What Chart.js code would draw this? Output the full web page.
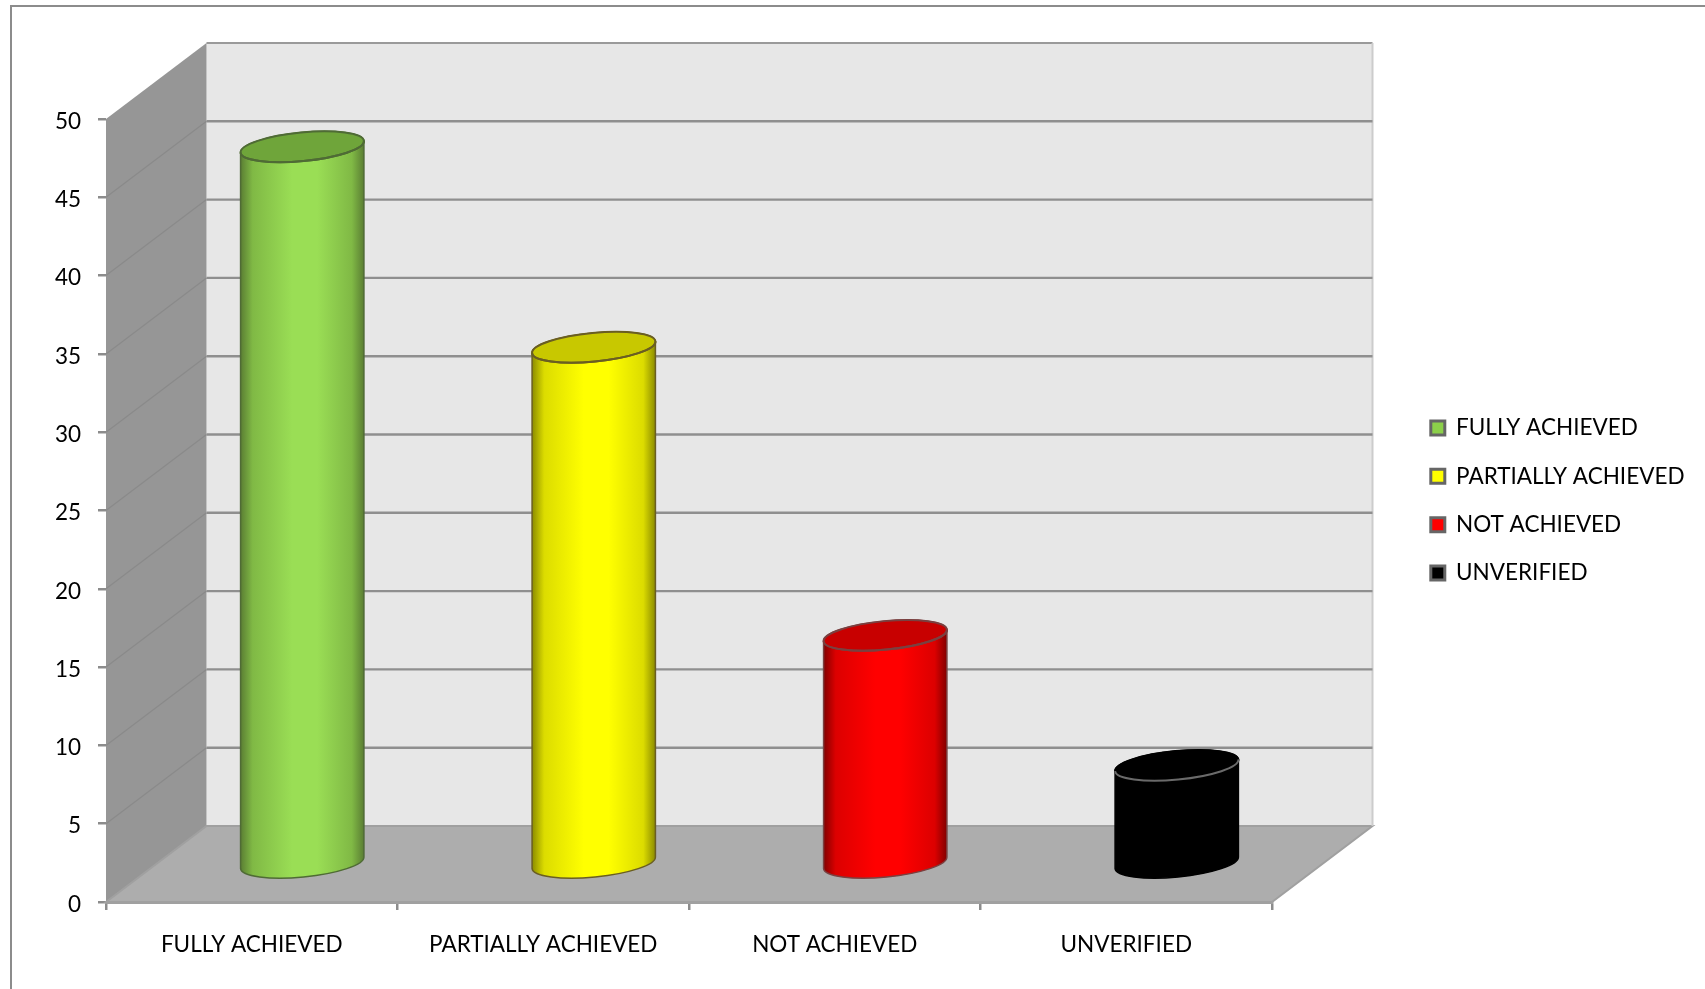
<!DOCTYPE html>
<html>
<head>
<meta charset="utf-8">
<style>
  html, body { margin: 0; padding: 0; background: #fff; overflow: hidden; }
  canvas { display: block; }
</style>
<script src="https://cdn.jsdelivr.net/npm/chart.js@4"></script>
</head>
<body>
<canvas id="myChart" width="1705" height="989"></canvas>
<script>
const categories = ['FULLY ACHIEVED', 'PARTIALLY ACHIEVED', 'NOT ACHIEVED', 'UNVERIFIED'];
const values = [45.8, 33, 14.6, 6.3];
const yTickStep = 5;
const yMax = 50;

const legendColors = ['#8cd04a', '#ffff00', '#ff0000', '#000000'];
const barColors = ['#9ade55', '#ffff00', '#ff0000', '#000000'];
const midColors = ['#80b945', '#dcdc00', '#dc0000', '#000000'];
const edgeColors = ['#5a7d33', '#8a8a00', '#800000', '#000000'];
const capColors = ['#6fa53a', '#c8c800', '#c80000', '#000000'];
const lineColors = ['#4f6b35', '#6a5e22', '#7a4040', '#6a6a6a'];
const rimColors = ['#4f6b35', '#6a5e22', '#7a4040', '#000000'];

// depth of the fake 3d box, in pixels
const depthX = 100.5;
const depthY = 76;
const ellipseRy = 14.3;
const ellipseTilt = -0.095;

// cylinder instead of the flat bar, the position still comes from the scales
Chart.BarElement.prototype.draw = function(ctx) {
    const {x, y, base, width} = this.getProps(['x', 'y', 'base', 'width']);
    const i = barColors.indexOf(this.options.backgroundColor);
    const cx = x + 50.5;
    const top = y - depthY / 2;
    const bottom = base - depthY / 2;
    const rx = width / 2;

    const grad = ctx.createLinearGradient(cx - rx, 0, cx + rx, 0);
    grad.addColorStop(0, edgeColors[i]);
    grad.addColorStop(0.1, midColors[i]);
    grad.addColorStop(0.42, barColors[i]);
    grad.addColorStop(0.62, barColors[i]);
    grad.addColorStop(0.9, midColors[i]);
    grad.addColorStop(1, edgeColors[i]);

    ctx.save();
    ctx.beginPath();
    ctx.ellipse(cx, bottom, rx, ellipseRy, ellipseTilt, 0, Math.PI);
    ctx.ellipse(cx, top, rx, ellipseRy, ellipseTilt, Math.PI, Math.PI * 2);
    ctx.closePath();
    ctx.fillStyle = grad;
    ctx.fill();
    ctx.strokeStyle = rimColors[i];
    ctx.lineWidth = 1.5;
    ctx.stroke();

    ctx.beginPath();
    ctx.ellipse(cx, top, rx, ellipseRy, ellipseTilt, 0, Math.PI * 2);
    ctx.fillStyle = capColors[i];
    ctx.fill();
    ctx.strokeStyle = rimColors[i];
    ctx.lineWidth = 2;
    ctx.stroke();
    // front half of the rim, the black bar only shows this one
    ctx.beginPath();
    ctx.ellipse(cx, top, rx, ellipseRy, ellipseTilt, 0, Math.PI);
    ctx.strokeStyle = lineColors[i];
    ctx.stroke();
    ctx.restore();
};

const box3d = {
    id: 'box3d',
    beforeDraw(chart) {
        const ctx = chart.ctx;
        // frame around the whole chart, it runs off the picture
        ctx.save();
        ctx.strokeStyle = '#8c8c8c';
        ctx.lineWidth = 2;
        ctx.strokeRect(11, 6, 1720, 1020);
        ctx.restore();
    },
    afterLayout(chart) {
        const legend = chart.legend;
        legend.left = 1405;
        legend.right = legend.left + legend.width;
        legend.top = 391;
        legend.bottom = legend.top + legend.height;
    },
    beforeDatasetsDraw(chart) {
        const ctx = chart.ctx;
        const area = chart.chartArea;
        const yScale = chart.scales.y;
        const y0 = yScale.getPixelForValue(0);
        const yTop = yScale.getPixelForValue(yMax);
        const l = area.left, r = area.right;

        ctx.save();
        // back wall
        ctx.fillStyle = '#e7e7e7';
        ctx.fillRect(l + depthX, yTop - depthY, r - l, y0 - yTop);
        // top edge of the back wall
        ctx.strokeStyle = '#9a9a9a';
        ctx.lineWidth = 2;
        ctx.beginPath();
        ctx.moveTo(l + depthX, yTop - depthY);
        ctx.lineTo(r + depthX, yTop - depthY);
        ctx.stroke();
        // left wall
        ctx.fillStyle = '#969696';
        ctx.beginPath();
        ctx.moveTo(l, y0);
        ctx.lineTo(l, yTop);
        ctx.lineTo(l + depthX, yTop - depthY);
        ctx.lineTo(l + depthX, y0 - depthY);
        ctx.closePath();
        ctx.fill();
        // floor
        ctx.fillStyle = '#adadad';
        ctx.beginPath();
        ctx.moveTo(l, y0);
        ctx.lineTo(l + depthX, y0 - depthY);
        ctx.lineTo(r + depthX, y0 - depthY);
        ctx.lineTo(r, y0);
        ctx.closePath();
        ctx.fill();
        ctx.strokeStyle = '#a0a0a0';
        ctx.lineWidth = 2;
        ctx.stroke();

        // right edge of the back wall
        ctx.strokeStyle = '#cccccc';
        ctx.lineWidth = 2;
        ctx.beginPath();
        ctx.moveTo(r + depthX, yTop - depthY);
        ctx.lineTo(r + depthX, y0 - depthY);
        ctx.stroke();

        // grid lines wrap around the left wall and the back wall
        yScale.ticks.forEach(t => {
            if (t.value === 0 || t.value === yMax) return;
            const py = yScale.getPixelForValue(t.value);
            ctx.strokeStyle = '#8a8a8a';
            ctx.lineWidth = 1.2;
            ctx.beginPath();
            ctx.moveTo(l, py);
            ctx.lineTo(l + depthX, py - depthY);
            ctx.stroke();
            ctx.strokeStyle = '#8f8f8f';
            ctx.lineWidth = 2.4;
            ctx.beginPath();
            ctx.moveTo(l + depthX, py - depthY);
            ctx.lineTo(r + depthX, py - depthY);
            ctx.stroke();
        });
        ctx.restore();
    }
};

const labelFont = {family: 'Lato', size: 22.5};

new Chart(document.getElementById('myChart').getContext('2d'), {
    type: 'bar',
    plugins: [box3d],
    data: {
        labels: categories,
        datasets: [{
            data: values,
            backgroundColor: barColors,
            borderColor: lineColors,
            barPercentage: 0.425,
            categoryPercentage: 1,
            clip: false
        }]
    },
    options: {
        responsive: false,
        animation: false,
        events: [],
        layout: {padding: {left: 0, top: 119, right: 433, bottom: 0}},
        scales: {
            x: {
                afterFit: s => { s.height = 87; },
                grid: {offset: true, drawOnChartArea: false, color: '#8c8c8c', lineWidth: 2.5, tickLength: 8},
                border: {color: '#a0a0a0', width: 3},
                ticks: {color: '#000', font: labelFont, padding: 21, maxRotation: 0}
            },
            y: {
                min: 0,
                max: yMax,
                afterFit: s => { s.width = 106; },
                grid: {drawOnChartArea: false, color: '#8c8c8c', lineWidth: 2.5, tickLength: 8},
                border: {color: '#969696', width: 1},
                ticks: {color: '#000', font: labelFont, padding: 17, stepSize: yTickStep, labelOffset: 2.5}
            }
        },
        plugins: {
            tooltip: {enabled: false},
            legend: {
                position: 'chartArea',
                align: 'start',
                labels: {
                    font: labelFont,
                    color: '#000',
                    boxWidth: 14,
                    boxHeight: 14,
                    padding: 25.8,
                    generateLabels: () => categories.map((c, i) => ({
                        text: c,
                        fillStyle: legendColors[i],
                        strokeStyle: '#666666',
                        lineWidth: 3,
                        index: i
                    }))
                }
            }
        }
    }
});
</script>
</body>
</html>
